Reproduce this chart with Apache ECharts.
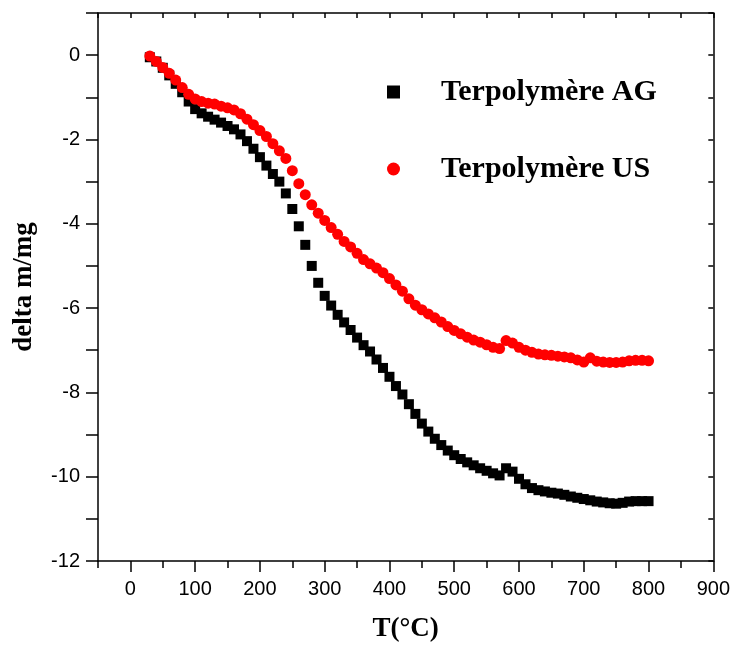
<!DOCTYPE html>
<html>
<head>
<meta charset="utf-8">
<script src="https://cdn.jsdelivr.net/npm/echarts@6/dist/echarts.min.js"></script>
<style>
  html, body { margin: 0; padding: 0; background: #fff; }
  #chart { width: 733px; height: 648px; }
</style>
</head>
<body>
<div id="chart"></div>
<script>
// Temperature (°C) for each sample
const temperature = [30, 40, 50, 60, 70, 80, 90, 100, 110, 120, 130, 140, 150, 160, 170, 180, 190, 200,
  210, 220, 230, 240, 250, 260, 270, 280, 290, 300, 310, 320, 330, 340, 350, 360, 370, 380, 390, 400,
  410, 420, 430, 440, 450, 460, 470, 480, 490, 500, 510, 520, 530, 540, 550, 560, 570, 580, 590, 600,
  610, 620, 630, 640, 650, 660, 670, 680, 690, 700, 710, 720, 730, 740, 750, 760, 770, 780, 790, 800];

// Mass change (mg), Terpolymère AG
const massAG = [-0.05, -0.15, -0.30, -0.48, -0.68, -0.88, -1.10, -1.28, -1.38, -1.46, -1.53, -1.60, -1.68, -1.76, -1.88, -2.04, -2.22, -2.42,
  -2.62, -2.82, -3.00, -3.28, -3.65, -4.06, -4.50, -5.00, -5.40, -5.71, -5.94, -6.16, -6.34, -6.52, -6.70, -6.88, -7.03, -7.22, -7.42, -7.63,
  -7.85, -8.05, -8.28, -8.51, -8.74, -8.93, -9.10, -9.25, -9.38, -9.49, -9.58, -9.66, -9.73, -9.80, -9.86, -9.92, -9.97, -9.80, -9.88, -10.05,
  -10.18, -10.27, -10.32, -10.35, -10.38, -10.40, -10.43, -10.47, -10.50, -10.53, -10.56, -10.59, -10.61, -10.63, -10.64, -10.62, -10.59, -10.58, -10.58, -10.58];

// Mass change (mg), Terpolymère US
const massUS = [-0.02, -0.15, -0.29, -0.43, -0.59, -0.77, -0.93, -1.04, -1.10, -1.14, -1.16, -1.21, -1.25, -1.30, -1.39, -1.52, -1.65, -1.79,
  -1.93, -2.10, -2.27, -2.45, -2.74, -3.05, -3.31, -3.55, -3.75, -3.92, -4.09, -4.25, -4.42, -4.55, -4.70, -4.85, -4.95, -5.05, -5.16, -5.30,
  -5.45, -5.60, -5.78, -5.93, -6.04, -6.14, -6.23, -6.33, -6.44, -6.53, -6.61, -6.69, -6.76, -6.81, -6.87, -6.93, -6.96, -6.77, -6.83, -6.93,
  -7.00, -7.05, -7.09, -7.11, -7.12, -7.14, -7.16, -7.18, -7.23, -7.28, -7.18, -7.26, -7.28, -7.29, -7.29, -7.28, -7.25, -7.24, -7.24, -7.25];

// Axis ticks
const xMajorTicks = [0, 100, 200, 300, 400, 500, 600, 700, 800, 900];
const xMinorTicks = [-50, 50, 150, 250, 350, 450, 550, 650, 750, 850];
const xTopTicks = [-50, 0, 50, 100, 150, 200, 250, 300, 350, 400, 450, 500, 550, 600, 650, 700, 750, 800, 850, 900];

const seriesNames = ['Terpolymère AG', 'Terpolymère US'];

const pairs = (xs, ys) => xs.map((x, i) => [x, ys[i]]);

const black = '#000';
const lineStyle = { color: black, width: 1.5 };
const tickFont = { fontFamily: 'Liberation Sans, Arial, sans-serif', fontSize: 20, color: black };
const titleFont = { fontFamily: 'Liberation Serif, Times New Roman, serif', fontWeight: 'bold', fontSize: 27, color: black };

const chart = echarts.init(document.getElementById('chart'), null, { renderer: 'canvas' });

chart.setOption({
  animation: false,
  backgroundColor: '#fff',
  grid: { left: 98, right: 19, top: 13, bottom: 83, containLabel: false },
  legend: {
    orient: 'vertical',
    left: 387,
    top: 77,
    padding: 0,
    itemWidth: 13,
    itemHeight: 13,
    itemGap: 47,
    data: seriesNames,
    textStyle: {
      fontFamily: 'Liberation Serif, Times New Roman, serif',
      fontWeight: 'bold',
      fontSize: 30,
      lineHeight: 30,
      color: black,
      padding: [0, 0, 0, 36]
    }
  },
  xAxis: [
    {
      type: 'value', min: -50, max: 900, position: 'bottom',
      name: 'T(°C)', nameLocation: 'middle', nameGap: 55, nameTextStyle: titleFont,
      axisLine: { show: true, onZero: false, lineStyle },
      axisTick: { show: true, inside: false, length: 11, lineStyle, customValues: xMajorTicks },
      axisLabel: { show: true, margin: 18, customValues: xMajorTicks, ...tickFont },
      splitLine: { show: false }
    },
    {
      type: 'value', min: -50, max: 900, position: 'bottom',
      axisLine: { show: false, onZero: false },
      axisTick: { show: true, inside: false, length: 7, lineStyle, customValues: xMinorTicks },
      axisLabel: { show: false },
      splitLine: { show: false }
    },
    {
      type: 'value', min: -50, max: 900, position: 'top',
      axisLine: { show: true, onZero: false, lineStyle },
      axisTick: { show: true, inside: true, length: 5, lineStyle, customValues: xTopTicks },
      axisLabel: { show: false },
      splitLine: { show: false }
    }
  ],
  yAxis: [
    {
      type: 'value', min: -12, max: 1, interval: 1, position: 'left',
      name: 'delta m/mg', nameLocation: 'middle', nameGap: 60, nameRotate: 90, nameTextStyle: titleFont,
      axisLine: { show: true, onZero: false, lineStyle },
      axisTick: { show: true, inside: false, length: 12, lineStyle },
      axisLabel: {
        show: true, margin: 18, ...tickFont,
        formatter: v => (v % 2 === 0 && v <= 0) ? String(v) : ''
      },
      splitLine: { show: false }
    },
    {
      type: 'value', min: -12, max: 1, interval: 1, position: 'right',
      axisLine: { show: true, onZero: false, lineStyle },
      axisTick: { show: true, inside: true, length: 5, lineStyle },
      axisLabel: { show: false },
      splitLine: { show: false }
    }
  ],
  series: [
    {
      name: seriesNames[0], type: 'scatter', symbol: 'rect', symbolSize: 10,
      itemStyle: { color: '#000', opacity: 1 },
      xAxisIndex: 0, yAxisIndex: 0,
      data: pairs(temperature, massAG)
    },
    {
      name: seriesNames[1], type: 'scatter', symbol: 'circle', symbolSize: 11,
      itemStyle: { color: '#ff0000', opacity: 1 },
      xAxisIndex: 0, yAxisIndex: 0,
      data: pairs(temperature, massUS)
    }
  ]
});
</script>
</body>
</html>
